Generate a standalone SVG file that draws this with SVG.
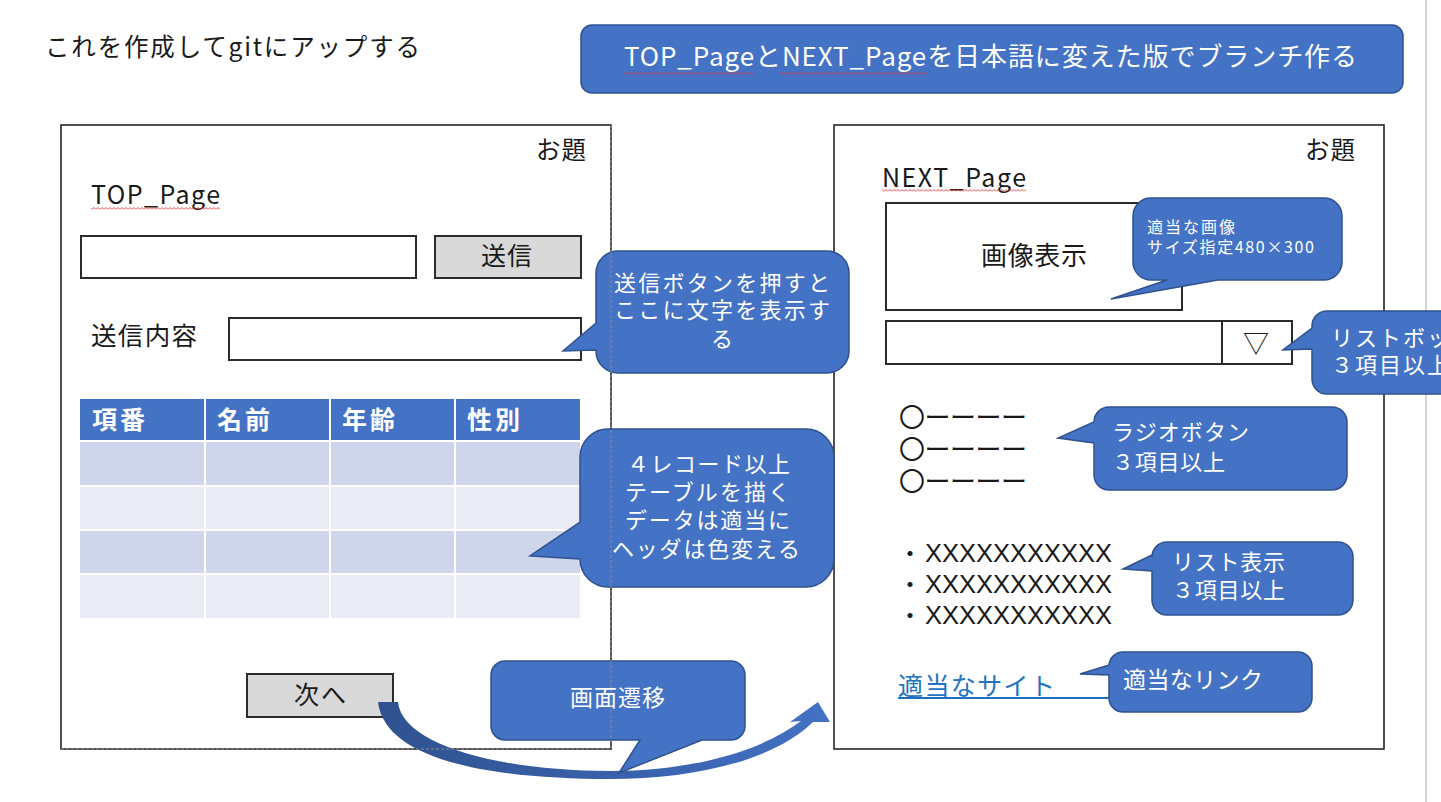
<svg xmlns="http://www.w3.org/2000/svg" width="1441" height="802" viewBox="0 0 1441 802">
<style>
text{font-family:'Noto Sans CJK JP','Noto Sans',sans-serif;fill:#1a1a1a}
.w{fill:#ffffff}
.b{font-weight:bold;fill:#ffffff;font-size:25px}
.box{fill:#ffffff;stroke:#2b2b2b;stroke-width:2}
.btn{fill:#d9d9d9;stroke:#2b2b2b;stroke-width:2}
.panel{fill:#ffffff;stroke:#262626;stroke-width:1.6}
.co{fill:#4472c4;stroke:#2f528f;stroke-width:1.5}
.hd{fill:#4472c4}
.r1{fill:#cfd5ea}
.r2{fill:#e9ebf5}
</style>
<defs>
<pattern id="sq" x="0" y="0" width="4" height="3" patternUnits="userSpaceOnUse">
<path d="M0,2.5 L2,0.5 L4,2.5" fill="none" stroke="#e03030" stroke-width="0.9"/>
</pattern>
<linearGradient id="ag" x1="0" y1="0" x2="1" y2="0">
<stop offset="0" stop-color="#2f528f"/>
<stop offset="0.6" stop-color="#3a63b0"/>
<stop offset="1" stop-color="#4472c4"/>
</linearGradient>
<clipPath id="vp"><rect x="0" y="0" width="1441" height="802"/></clipPath>
</defs>
<rect x="0" y="0" width="1441" height="802" fill="#ffffff"/>
<line x1="1426" y1="0" x2="1426" y2="802" stroke="#d6d6d6" stroke-width="2"/>

<g id="title">
<text x="45" y="56" font-size="24.5" textLength="375" lengthAdjust="spacing">これを作成してgitにアップする</text>
</g>

<g id="banner">
<rect x="581" y="25" width="822" height="68" rx="11" class="co"/>
<text x="624" y="66" font-size="26" class="w" textLength="733" lengthAdjust="spacing">TOP_PageとNEXT_Pageを日本語に変えた版でブランチ作る</text>
<rect x="624" y="72" width="129" height="3" fill="url(#sq)"/>
<rect x="779" y="72" width="148" height="3" fill="url(#sq)"/>
</g>

<g id="top-page">
<rect x="61" y="125" width="550" height="624" class="panel"/>
<text x="536" y="159" font-size="24.5" textLength="50" lengthAdjust="spacing">お題</text>
<text x="91" y="204" font-size="25" textLength="129" lengthAdjust="spacing">TOP_Page</text>
<rect x="91" y="207" width="129" height="3" fill="url(#sq)"/>
</g>

<g id="input-text">
<rect x="81" y="236" width="335" height="42" class="box"/>
</g>
<g id="send-button">
<rect x="435" y="236" width="146" height="42" class="btn"/>
<text x="481" y="265" font-size="25" textLength="51" lengthAdjust="spacing">送信</text>
</g>
<g id="send-content">
<text x="91" y="345" font-size="25.5" textLength="106" lengthAdjust="spacing">送信内容</text>
<rect x="229" y="318" width="352" height="42" class="box"/>
</g>

<g id="table">
<rect x="80" y="399" width="124" height="41" class="hd"/>
<rect x="206" y="399" width="123" height="41" class="hd"/>
<rect x="331" y="399" width="123" height="41" class="hd"/>
<rect x="456" y="399" width="124" height="41" class="hd"/>
<text x="92" y="429" class="b" textLength="53" lengthAdjust="spacing">項番</text>
<text x="217" y="429" class="b" textLength="53" lengthAdjust="spacing">名前</text>
<text x="342" y="429" class="b" textLength="53" lengthAdjust="spacing">年齢</text>
<text x="467" y="429" class="b" textLength="53" lengthAdjust="spacing">性別</text>
<g class="r1">
<rect x="80" y="442" width="124" height="43"/><rect x="206" y="442" width="123" height="43"/><rect x="331" y="442" width="123" height="43"/><rect x="456" y="442" width="124" height="43"/>
<rect x="80" y="531" width="124" height="42"/><rect x="206" y="531" width="123" height="42"/><rect x="331" y="531" width="123" height="42"/><rect x="456" y="531" width="124" height="42"/>
</g>
<g class="r2">
<rect x="80" y="487" width="124" height="42"/><rect x="206" y="487" width="123" height="42"/><rect x="331" y="487" width="123" height="42"/><rect x="456" y="487" width="124" height="42"/>
<rect x="80" y="575" width="124" height="43"/><rect x="206" y="575" width="123" height="43"/><rect x="331" y="575" width="123" height="43"/><rect x="456" y="575" width="124" height="43"/>
</g>
</g>

<g id="next-button">
<rect x="247" y="674" width="146" height="43" class="btn"/>
<text x="294" y="704" font-size="25" textLength="52" lengthAdjust="spacing">次へ</text>
</g>

<g id="next-page">
<rect x="834" y="125" width="550" height="624" class="panel"/>
<text x="1305" y="159" font-size="24.5" textLength="50" lengthAdjust="spacing">お題</text>
<text x="882" y="187" font-size="25" textLength="144" lengthAdjust="spacing">NEXT_Page</text>
<rect x="882" y="189" width="144" height="3" fill="url(#sq)"/>
</g>

<g id="image-box">
<rect x="886" y="203" width="296" height="107" class="box"/>
<text x="981" y="265" font-size="26" textLength="106" lengthAdjust="spacing">画像表示</text>
</g>

<g id="dropdown">
<rect x="886" y="321" width="406" height="43" class="box"/>
<line x1="1222" y1="321" x2="1222" y2="364" stroke="#2b2b2b" stroke-width="2"/>
<text x="1256" y="353" font-size="26" text-anchor="middle">▽</text>
</g>

<g id="radio">
<text x="899" y="427" font-size="26" textLength="128" lengthAdjust="spacing">〇ーーーー</text>
<text x="899" y="459" font-size="26" textLength="128" lengthAdjust="spacing">〇ーーーー</text>
<text x="899" y="491" font-size="26" textLength="128" lengthAdjust="spacing">〇ーーーー</text>
</g>

<g id="list">
<text x="898" y="562" font-size="24">・</text>
<text x="898" y="593" font-size="24">・</text>
<text x="898" y="624" font-size="24">・</text>
<text x="925" y="562" font-size="25" style="font-family:'Liberation Sans',sans-serif" textLength="187" lengthAdjust="spacingAndGlyphs">XXXXXXXXXXX</text>
<text x="925" y="593" font-size="25" style="font-family:'Liberation Sans',sans-serif" textLength="187" lengthAdjust="spacingAndGlyphs">XXXXXXXXXXX</text>
<text x="925" y="624" font-size="25" style="font-family:'Liberation Sans',sans-serif" textLength="187" lengthAdjust="spacingAndGlyphs">XXXXXXXXXXX</text>
</g>

<g id="link">
<text x="898" y="695" font-size="25" style="fill:#2472c0" textLength="157" lengthAdjust="spacing">適当なサイト</text>
<line x1="898" y1="698" x2="1112" y2="698" stroke="#1f6fc0" stroke-width="2"/>
</g>

<g id="connectors">
<path d="M398,702 C402,745 500,771 610,771 C690,771 760,752 801,721 L790,722 L818,702 L830,722 L813,722 C772,762 690,779 610,779 C490,779 385,760 378,702 Z" fill="url(#ag)"/>
</g>

<g id="callout-send">
<path class="co" d="M618,251 H827 A22 22 0 0 1 849,273 V351 A22 22 0 0 1 827,373 H618 A22 22 0 0 1 596,351 V350 L563,351 L596,323 V273 A22 22 0 0 1 618,251 Z"/>
<text x="614" y="291" font-size="22" class="w" textLength="216" lengthAdjust="spacing">送信ボタンを押すと</text>
<text x="614" y="318" font-size="22" class="w" textLength="216" lengthAdjust="spacing">ここに文字を表示す</text>
<text x="722" y="347" font-size="22" class="w" text-anchor="middle">る</text>
</g>

<g id="callout-table">
<path class="co" d="M608,429 H806 A28 28 0 0 1 834,457 V559 A28 28 0 0 1 806,587 H608 A28 28 0 0 1 580,559 L530,556 L580,522 V457 A28 28 0 0 1 608,429 Z"/>
<text x="627" y="472" font-size="22" class="w" textLength="163" lengthAdjust="spacing">４レコード以上</text>
<text x="625" y="500" font-size="22" class="w" textLength="165" lengthAdjust="spacing">テーブルを描く</text>
<text x="625" y="528" font-size="22" class="w" textLength="165" lengthAdjust="spacing">データは適当に</text>
<text x="612" y="557" font-size="22" class="w" textLength="188" lengthAdjust="spacing">ヘッダは色変える</text>
</g>

<g id="callout-transition">
<path class="co" d="M505,661 H731 A14 14 0 0 1 745,675 V726 A14 14 0 0 1 731,740 H702 L619,773 L640,740 H505 A14 14 0 0 1 491,726 V675 A14 14 0 0 1 505,661 Z"/>
<text x="570" y="706" font-size="23" class="w" textLength="95" lengthAdjust="spacing">画面遷移</text>
</g>

<g id="callout-image">
<path class="co" d="M1151,198 H1324 A18 18 0 0 1 1342,216 V262 A18 18 0 0 1 1324,280 H1218 L1111,299 L1167,280 H1151 A18 18 0 0 1 1133,262 V216 A18 18 0 0 1 1151,198 Z"/>
<text x="1147" y="233" font-size="16" class="w" textLength="88" lengthAdjust="spacing">適当な画像</text>
<text x="1147" y="253" font-size="16" class="w" textLength="167" lengthAdjust="spacing">サイズ指定480×300</text>
</g>

<g id="callout-listbox" clip-path="url(#vp)">
<path class="co" d="M1327,311 H1500 V394 H1327 A15 15 0 0 1 1312,379 V349 L1283,350 L1312,328 V326 A15 15 0 0 1 1327,311 Z"/>
<text x="1331" y="346" font-size="22" class="w" letter-spacing="2">リストボックス</text>
<text x="1331" y="373" font-size="22" class="w" letter-spacing="2">３項目以上</text>
</g>

<g id="callout-radio">
<path class="co" d="M1109,407 H1332 A15 15 0 0 1 1347,422 V475 A15 15 0 0 1 1332,490 H1109 A15 15 0 0 1 1094,475 V443 L1058,438 L1094,422 A15 15 0 0 1 1109,407 Z"/>
<text x="1112" y="440" font-size="22" class="w" textLength="137" lengthAdjust="spacing">ラジオボタン</text>
<text x="1112" y="470" font-size="22" class="w" textLength="113" lengthAdjust="spacing">３項目以上</text>
</g>

<g id="callout-list">
<path class="co" d="M1167,542 H1338 A15 15 0 0 1 1353,557 V600 A15 15 0 0 1 1338,615 H1167 A15 15 0 0 1 1152,600 V571 L1123,569 L1152,555 V557 A15 15 0 0 1 1167,542 Z"/>
<text x="1172" y="570" font-size="22" class="w" textLength="113" lengthAdjust="spacing">リスト表示</text>
<text x="1172" y="598" font-size="22" class="w" textLength="113" lengthAdjust="spacing">３項目以上</text>
</g>

<g id="callout-link">
<path class="co" d="M1123,652 H1298 A14 14 0 0 1 1312,666 V698 A14 14 0 0 1 1298,712 H1123 A14 14 0 0 1 1109,698 V675 L1080,674 L1109,665 V666 A14 14 0 0 1 1123,652 Z"/>
<text x="1123" y="688" font-size="23" class="w" textLength="140" lengthAdjust="spacing">適当なリンク</text>
</g>

<g id="panel-overlay">
<line x1="611" y1="125" x2="611" y2="749" stroke="#8c8c8c" stroke-width="1" stroke-dasharray="3,2"/>
<line x1="61" y1="749" x2="611" y2="749" stroke="#8c8c8c" stroke-width="1" stroke-dasharray="3,2"/>
</g>
</svg>
